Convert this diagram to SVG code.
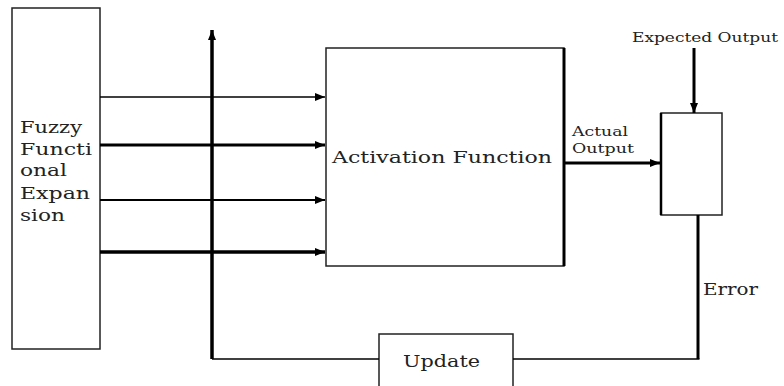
<svg xmlns="http://www.w3.org/2000/svg" width="784" height="386" viewBox="0 0 784 386">
<style>
.box{fill:#fff;stroke:#222;stroke-width:1.5}
.ln{fill:none;stroke:#000}
.t{font-family:"DejaVu Serif","Liberation Serif",serif;fill:#222}
</style>
<defs>
<marker id="ah" markerUnits="userSpaceOnUse" markerWidth="11" markerHeight="9" refX="10" refY="4.5" orient="auto">
<path d="M0,0.5 L10,4.5 L0,8.5 Z" fill="#000"/>
</marker>
</defs>
<rect width="784" height="386" fill="#fff"/>
<g id="fuzzy">
<rect class="box" x="12" y="8" width="88" height="341"/>
<text class="t" font-size="17.5" x="20" y="133" textLength="62" lengthAdjust="spacingAndGlyphs">Fuzzy</text>
<text class="t" font-size="17.5" x="20" y="155" textLength="72" lengthAdjust="spacingAndGlyphs">Functi</text>
<text class="t" font-size="17.5" x="20" y="176" textLength="47" lengthAdjust="spacingAndGlyphs">onal</text>
<text class="t" font-size="17.5" x="20" y="199" textLength="70" lengthAdjust="spacingAndGlyphs">Expan</text>
<text class="t" font-size="17.5" x="20" y="221" textLength="45" lengthAdjust="spacingAndGlyphs">sion</text>
</g>
<g id="activation">
<rect class="box" x="326" y="48" width="238" height="218"/>
<line x1="564" y1="48" x2="564" y2="266" stroke="#000" stroke-width="3"/>
<text class="t" font-size="17.5" x="332" y="163" textLength="220" lengthAdjust="spacingAndGlyphs">Activation Function</text>
</g>
<g id="comparator">
<rect class="box" x="661" y="113" width="61" height="102"/>
<line x1="661" y1="113" x2="661" y2="215" stroke="#000" stroke-width="2.5"/>
</g>
<g id="update">
<rect class="box" x="379" y="334" width="134" height="56"/>
<text class="t" font-size="16" x="403" y="367" textLength="77" lengthAdjust="spacingAndGlyphs">Update</text>
</g>
<g id="connectors">
<line class="ln" x1="100" y1="97" x2="325" y2="97" stroke-width="1.5" marker-end="url(#ah)"/>
<line class="ln" x1="100" y1="145" x2="325" y2="145" stroke-width="3" marker-end="url(#ah)"/>
<line class="ln" x1="100" y1="200" x2="325" y2="200" stroke-width="2" marker-end="url(#ah)"/>
<line class="ln" x1="100" y1="252" x2="325" y2="252" stroke-width="3.5" marker-end="url(#ah)"/>
<line class="ln" x1="212" y1="359" x2="212" y2="30" stroke-width="3.5" marker-end="url(#ah)"/>
<line class="ln" x1="565" y1="163" x2="660" y2="163" stroke-width="3" marker-end="url(#ah)"/>
<line class="ln" x1="694" y1="48" x2="694" y2="113" stroke-width="3" marker-end="url(#ah)"/>
<polyline class="ln" points="698,215 698,359" stroke-width="3"/>
<line class="ln" x1="212" y1="359" x2="379" y2="359" stroke-width="1.5"/>
<line class="ln" x1="513" y1="359" x2="699.5" y2="359" stroke-width="1.5"/>
<text class="t" font-size="12.5" x="572" y="136" textLength="56" lengthAdjust="spacingAndGlyphs">Actual</text>
<text class="t" font-size="12.5" x="572" y="153" textLength="62" lengthAdjust="spacingAndGlyphs">Output</text>
<text class="t" font-size="13" x="632" y="42" textLength="146" lengthAdjust="spacingAndGlyphs">Expected Output</text>
<text class="t" font-size="16" x="703" y="295" textLength="55" lengthAdjust="spacingAndGlyphs">Error</text>
</g>
</svg>
